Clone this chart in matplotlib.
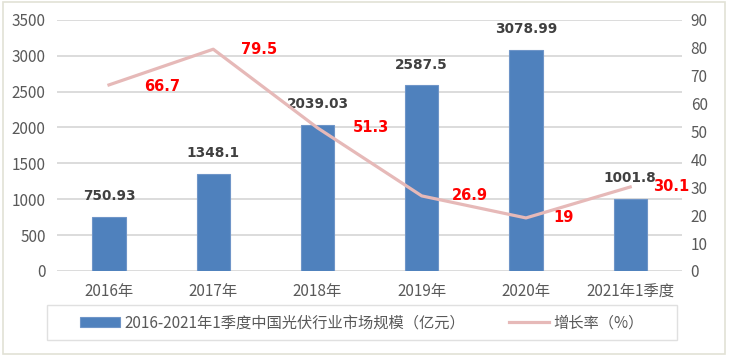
import numpy as np
import matplotlib.pyplot as plt
from matplotlib.patches import Rectangle

plt.rcParams['font.family'] = ['Noto Sans CJK SC', 'DejaVu Sans']

# data
years = ['2016年', '2017年', '2018年', '2019年', '2020年', '2021年1季度']
market = [750.93, 1348.1, 2039.03, 2587.5, 3078.99, 1001.8]
growth = [66.7, 79.5, 51.3, 26.9, 19, 30.1]
market_labels = ['750.93', '1348.1', '2039.03', '2587.5', '3078.99', '1001.8']
growth_labels = ['66.7', '79.5', '51.3', '26.9', '19', '30.1']

bar_color = '#4F81BD'
line_color = '#E6B9B8'
grid_color = '#D9D9D9'
text_color = '#595959'

fig = plt.figure(figsize=(7.29, 3.56), dpi=100)
ax = fig.add_axes([0.078, 0.239, 0.858, 0.705])
ax2 = ax.twinx()

x = np.arange(len(years))
ax.bar(x, market, width=0.32, color=bar_color, edgecolor='#6F95C8',
       linewidth=0.8, zorder=2, label='2016-2021年1季度中国光伏行业市场规模（亿元）')
ax2.plot(x, growth, color=line_color, linewidth=2.3, zorder=3, label='增长率（%）')

ax.set_xlim(-0.5, 5.5)
ax.set_ylim(0, 3500)
ax.set_yticks(np.arange(0, 3501, 500))
ax2.set_ylim(0, 90)
ax2.set_yticks(np.arange(0, 91, 10))
ax.set_xticks(x)
ax.set_xticklabels(years)
ax.yaxis.grid(True, color=grid_color, linewidth=1.3, zorder=0)
ax.set_axisbelow(True)

for a in (ax, ax2):
    for s in a.spines.values():
        s.set_visible(False)
    a.tick_params(length=0, labelsize=11, colors=text_color)
ax.tick_params(axis='y', pad=8)
ax.tick_params(axis='x', pad=9)
ax2.tick_params(axis='y', pad=6)

# bar value labels
for xi, v, lab in zip(x, market, market_labels):
    ax.annotate(lab, (xi, v), xytext=(0, 15), textcoords='offset points',
                ha='center', va='center', fontsize=9.8, fontweight='bold',
                color='#404040', family='DejaVu Sans')

# growth labels
offsets = [(38, -1), (33, 0), (38.5, 0), (34.5, 0), (27, 0), (29.5, 0)]
for xi, v, lab, off in zip(x, growth, growth_labels, offsets):
    ax2.annotate(lab, (xi, v), xytext=off, textcoords='offset points',
                 ha='center', va='center', fontsize=10.5, fontweight='bold',
                 color='#FF0000', family='DejaVu Sans')

# legend box drawn separately so its width matches the reference
fig.patches.append(Rectangle((47 / 729, 16 / 356), 630 / 729, 35 / 356,
                             transform=fig.transFigure, fill=False,
                             edgecolor='#E0E0E0', linewidth=1.0))
h1, l1 = ax.get_legend_handles_labels()
h2, l2 = ax2.get_legend_handles_labels()
fig.legend(h1 + h2, l1 + l2, loc='center', bbox_to_anchor=(362 / 729, 0.093),
           ncol=2, frameon=False, fontsize=11, handlelength=2.6,
           handleheight=0.6, handletextpad=0.3, columnspacing=2.9,
           labelcolor=text_color)

# outer frame
fig.patches.append(Rectangle((0.004, 0.006), 0.99, 0.988, transform=fig.transFigure,
                             fill=False, edgecolor='#E2E2D6', linewidth=1.2))

fig.savefig('out.png', dpi=100)
